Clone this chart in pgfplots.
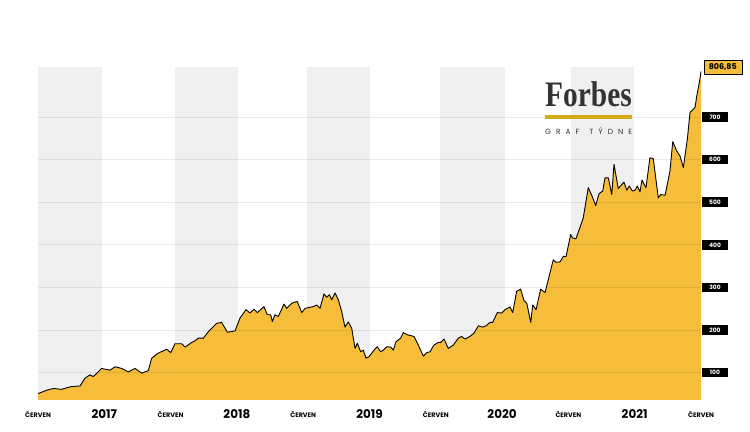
\documentclass[border=0pt]{standalone}
\usepackage{graphicx}
\usepackage{pgfplots}
\pgfplotsset{compat=1.18}
\usepackage{pgfplotstable}
\usepackage{fontspec}
\setmainfont{Poppins}
\newfontfamily\forbesfont{Liberation Serif}
\definecolor{gold}{RGB}{245,189,58}
\definecolor{band}{RGB}{240,240,240}
\definecolor{logogold}{RGB}{212,170,22}
\definecolor{logogrey}{RGB}{51,51,51}

\pgfplotstableread{
x y
0.000 51
0.066 59
0.115 63
0.179 61
0.241 67
0.317 69
0.354 87
0.392 95
0.417 91
0.480 110
0.543 106
0.581 114
0.631 110
0.681 102
0.732 110
0.782 99
0.832 105
0.857 134
0.907 146
0.971 155
1.001 147
1.033 168
1.084 168
1.109 160
1.159 171
1.184 175
1.209 181
1.247 181
1.284 196
1.348 216
1.385 218
1.428 195
1.486 198
1.523 228
1.569 248
1.599 240
1.629 249
1.654 241
1.704 255
1.729 236
1.755 236
1.767 220
1.787 236
1.812 232
1.855 261
1.876 251
1.913 263
1.955 267
1.989 241
2.014 251
2.076 255
2.102 259
2.127 251
2.157 285
2.177 277
2.197 283
2.215 271
2.240 287
2.265 271
2.290 244
2.315 207
2.340 219
2.366 204
2.391 157
2.408 169
2.434 149
2.453 153
2.474 134
2.498 138
2.534 153
2.559 161
2.584 149
2.604 153
2.630 161
2.660 160
2.680 153
2.700 173
2.735 181
2.755 194
2.785 189
2.836 185
2.868 165
2.906 139
2.931 147
2.956 149
2.986 165
3.019 171
3.037 171
3.062 179
3.094 157
3.132 165
3.170 181
3.195 185
3.220 179
3.258 185
3.288 193
3.321 210
3.351 207
3.379 210
3.409 218
3.429 218
3.464 241
3.497 240
3.522 248
3.560 254
3.580 241
3.610 291
3.640 296
3.665 269
3.686 263
3.716 218
3.731 259
3.756 248
3.791 296
3.824 288
3.886 365
3.906 359
3.937 360
3.962 373
3.982 372
4.017 424
4.032 416
4.057 414
4.112 463
4.150 534
4.176 516
4.206 492
4.231 520
4.259 526
4.276 557
4.301 557
4.327 518
4.344 589
4.376 532
4.419 547
4.440 528
4.459 538
4.482 526
4.502 528
4.520 538
4.540 524
4.555 552
4.585 534
4.615 604
4.640 602
4.678 510
4.696 518
4.729 516
4.766 573
4.787 642
4.817 620
4.842 608
4.867 581
4.897 648
4.917 710
4.955 722
4.968 749
4.992 789
5.000 806.85
}\data

\begin{document}
\begin{tikzpicture}
\path[use as bounding box] (0,0) rectangle (750bp,432bp);
\begin{axis}[
  at={(38bp,32bp)}, anchor=south west,
  width=663bp, height=333bp, scale only axis,
  xmin=0, xmax=5, ymin=36, ymax=817,
  axis line style={draw=none}, tick style={draw=none},
  axis on top,
  ymajorgrids, grid style={black, opacity=0.08, line width=0.6pt},
  xtick={0,1,2,3,4,5},
  xticklabels={ČERVEN,ČERVEN,ČERVEN,ČERVEN,ČERVEN,ČERVEN},
  xticklabel style={font=\bfseries\fontsize{6.5}{7}\selectfont, anchor=center, yshift=-14bp, text=black},
  extra x ticks={0.5,1.5,2.5,3.5,4.5},
  extra x tick labels={2017,2018,2019,2020,2021},
  extra x tick style={grid=none, xticklabel style={font=\bfseries\fontsize{12}{14}\selectfont}},
  ytick={100,200,300,400,500,600,700},
  yticklabels={100,200,300,400,500,600,700},
  yticklabel pos=right,
  yticklabel style={anchor=center, xshift=14bp, fill=black, text=white,
    font=\bfseries\fontsize{6}{6}\selectfont, inner sep=0pt,
    minimum width=26bp, minimum height=9.5bp},
]
\fill[band] (axis cs:0,36) rectangle (axis cs:0.48,817);
\fill[band] (axis cs:1.03,36) rectangle (axis cs:1.505,817);
\fill[band] (axis cs:2.03,36) rectangle (axis cs:2.505,817);
\fill[band] (axis cs:3.035,36) rectangle (axis cs:3.52,817);
\fill[band] (axis cs:4.02,36) rectangle (axis cs:4.495,817);
\addplot[fill=gold, draw=none] table[x=x,y=y] {\data} \closedcycle;
\addplot[black, line width=0.9pt, line join=round] table[x=x,y=y] {\data};
\coordinate (last) at (axis cs:5,806.85);
\end{axis}
\node[fill=gold, draw=black, line width=0.6pt, anchor=west, inner sep=0pt,
  minimum width=38bp, minimum height=14bp, xshift=2.5bp, yshift=4.5bp,
  font=\bfseries\fontsize{8}{9}\selectfont] at (last) {806,85};
\node[anchor=base, inner sep=0pt, text=logogrey,
  font=\forbesfont\bfseries\fontsize{36}{36}\selectfont] at (588.5bp,325bp) {\scalebox{0.82}[1]{Forbes}};
\fill[logogold] (545bp,312.5bp) rectangle (632bp,316.5bp);
\node[anchor=base west, inner sep=0pt, text=logogrey,
  font=\fontsize{7.5}{8}\selectfont] at (545bp,297bp)
  {\makebox[87bp][s]{G\hfill R\hfill A\hfill F\hfill\hfill T\hfill Ý\hfill D\hfill N\hfill E}};
\end{tikzpicture}
\end{document}
